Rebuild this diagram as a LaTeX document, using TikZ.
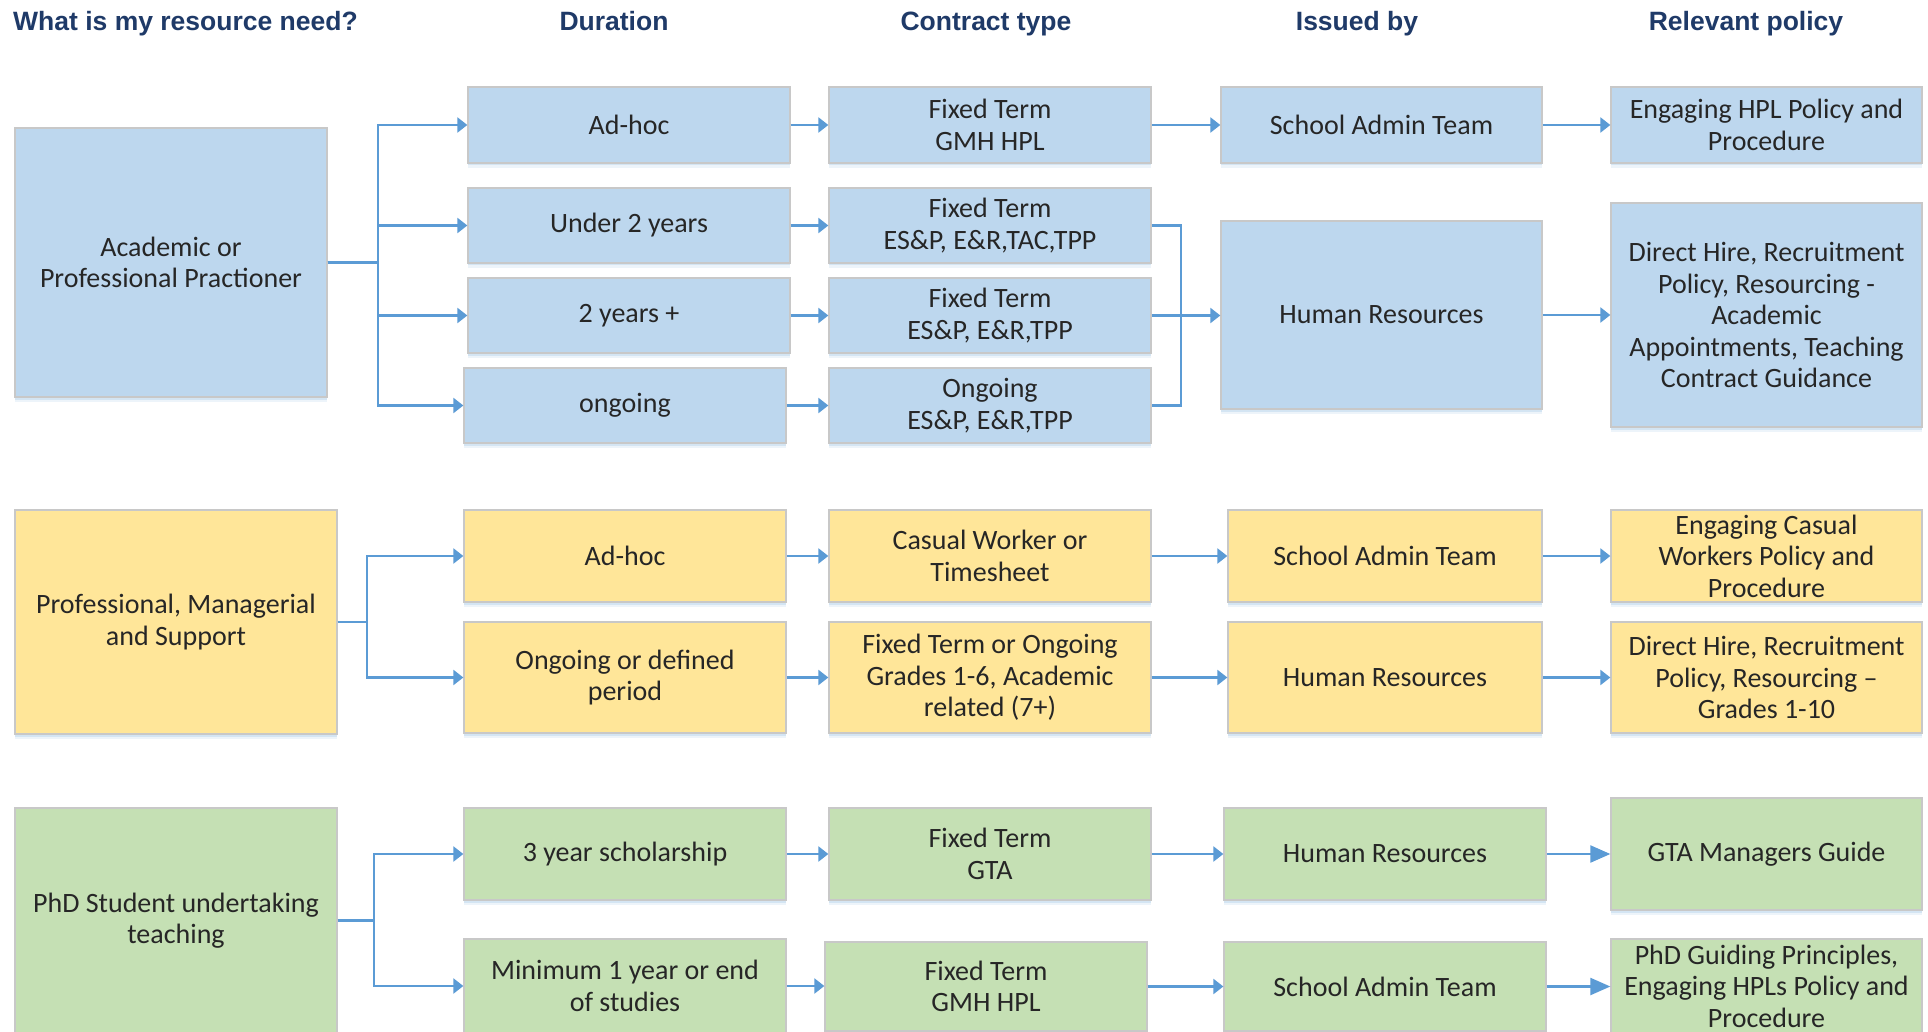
\documentclass[tikz,border=0pt]{standalone}
\usepackage{fontspec}
\setmainfont{Carlito}
\newfontfamily\headfont{Liberation Sans}
\usetikzlibrary{arrows.meta,shadows}

\definecolor{hdcol}{HTML}{1F3A68}
\definecolor{txtcol}{HTML}{262626}
\definecolor{fblue}{HTML}{BDD7EE}
\definecolor{fyellow}{HTML}{FFE699}
\definecolor{fgreen}{HTML}{C5E0B4}
\definecolor{edgecol}{HTML}{C8C8C8}
\definecolor{linkcol}{HTML}{5B9BD5}
\definecolor{shadecol}{HTML}{9DC3E6}

% box from corner (x1,y1) to corner (x2,y2), y counted downwards
\newcommand\bx[7]{%
  \node[#6, minimum width={(#4-#2)*1pt}, minimum height={(#5-#3)*1pt}]
    (#1) at ({(#2+#4)/2},{(#3+#5)/2}) {#7};}

\begin{document}
\begin{tikzpicture}[x=1pt, y=-1pt,
  boxbase/.style={draw=edgecol, line width=1.3pt, align=center, inner sep=2pt,
    text=txtcol, font=\fontsize{28}{31.5}\selectfont,
    drop shadow={shadow xshift=0pt, shadow yshift=-5pt, fill=shadecol, opacity=0.18},
    drop shadow={shadow xshift=0pt, shadow yshift=-2.5pt, fill=shadecol, opacity=0.3}},
  bluebox/.style={boxbase, fill=fblue},
  yellowbox/.style={boxbase, fill=fyellow},
  greenbox/.style={boxbase, fill=fgreen},
  hd/.style={text=hdcol, inner sep=0pt, font=\headfont\bfseries\fontsize{26.5}{30}\selectfont},
  link/.style={draw=linkcol, line width=2.2pt},
  arr/.style={link, -{Triangle[length=10pt,width=15pt]}},
  bigarr/.style={link, -{Triangle[length=20pt,width=17pt]}}]

\useasboundingbox (0,0) rectangle (1928,1032);
\fill[white] (0,0) rectangle (1928,1032);
\clip (0,0) rectangle (1928,1032);

% column headings
\node[hd, anchor=base west] (hneed) at (13,31) {What is my resource need?};
\node[hd, anchor=base] (hdur) at (614,31) {Duration};
\node[hd, anchor=base] (hcon) at (986,31) {Contract type};
\node[hd, anchor=base] (hiss) at (1357,31) {Issued by};
\node[hd, anchor=base] (hpol) at (1746,31) {Relevant policy};

% academic or professional practitioner
\bx{acad}{15}{128}{327}{397}{bluebox}{Academic or\\Professional Practioner}
\bx{d1}{468}{87}{790}{163}{bluebox}{Ad-hoc}
\bx{d2}{468}{188}{790}{263}{bluebox}{Under 2 years}
\bx{d3}{468}{278}{790}{353}{bluebox}{2 years +}
\bx{d4}{464}{368}{786}{443}{bluebox}{ongoing}
\bx{c1}{829}{87}{1151}{163}{bluebox}{Fixed Term\\GMH HPL}
\bx{c2}{829}{188}{1151}{263}{bluebox}{Fixed Term\\ES\&P, E\&R,TAC,TPP}
\bx{c3}{829}{278}{1151}{353}{bluebox}{Fixed Term\\ES\&P, E\&R,TPP}
\bx{c4}{829}{368}{1151}{443}{bluebox}{Ongoing\\ES\&P, E\&R,TPP}
\bx{i1}{1221}{87}{1542}{163}{bluebox}{School Admin Team}
\bx{i2}{1221}{221}{1542}{409}{bluebox}{Human Resources}
\bx{p1}{1611}{87}{1922}{163}{bluebox}{Engaging HPL Policy and\\Procedure}
\bx{p2}{1611}{203}{1922}{427}{bluebox}{Direct Hire, Recruitment\\Policy, Resourcing -\\Academic\\Appointments, Teaching\\Contract Guidance}

% professional, managerial and support
\bx{prof}{15}{510}{337}{734}{yellowbox}{Professional, Managerial\\and Support}
\bx{e1}{464}{510}{786}{602}{yellowbox}{Ad-hoc}
\bx{e2}{464}{622}{786}{733}{yellowbox}{Ongoing or defined\\period}
\bx{f1}{829}{510}{1151}{602}{yellowbox}{Casual Worker or\\Timesheet}
\bx{f2}{829}{622}{1151}{733}{yellowbox}{Fixed Term or Ongoing\\Grades 1-6, Academic\\related (7+)}
\bx{g1}{1228}{510}{1542}{602}{yellowbox}{School Admin Team}
\bx{g2}{1228}{622}{1542}{733}{yellowbox}{Human Resources}
\bx{h1}{1611}{510}{1922}{602}{yellowbox}{Engaging Casual\\Workers Policy and\\Procedure}
\bx{h2}{1611}{622}{1922}{733}{yellowbox}{Direct Hire, Recruitment\\Policy, Resourcing –\\Grades 1-10}

% PhD student undertaking teaching
\bx{phd}{15}{808}{337}{1033}{greenbox}{PhD Student undertaking\\teaching}
\bx{k1}{464}{808}{786}{900}{greenbox}{3 year scholarship}
\bx{k2}{464}{939}{786}{1033}{greenbox}{Minimum 1 year or end\\of studies}
\bx{l1}{829}{808}{1151}{900}{greenbox}{Fixed Term\\GTA}
\bx{l2}{825}{942}{1147}{1031}{greenbox}{Fixed Term\\GMH HPL}
\bx{m1}{1224}{808}{1546}{900}{greenbox}{Human Resources}
\bx{m2}{1224}{942}{1546}{1031}{greenbox}{School Admin Team}
\bx{n1}{1611}{798}{1922}{910}{greenbox}{GTA Managers Guide}
\bx{n2}{1611}{939}{1922}{1033}{greenbox}{PhD Guiding Principles,\\Engaging HPLs Policy and\\Procedure}

% connectors, first group
\foreach \d in {d1,d2,d3,d4}
  \draw[arr] (acad.east) -- ++(50,0) |- (\d.west);
\draw[arr] (d1.east) -- (c1.west);
\draw[arr] (d2.east) -- (c2.west);
\draw[arr] (d3.east) -- (c3.west);
\draw[arr] (d4.east) -- (c4.west);
\draw[arr] (c1.east) -- (i1.west);
\draw[arr] (i1.east) -- (p1.west);
\draw[link] (c2.east) -- ++(29,0) |- (c4.east);
\draw[arr] (c3.east) -- (c3.east -| i2.west);
\draw[arr] (i2.east) -- (p2.west);

% connectors, second group
\foreach \d in {e1,e2}
  \draw[arr] (prof.east) -- ++(29,0) |- (\d.west);
\draw[arr] (e1.east) -- (f1.west);
\draw[arr] (e2.east) -- (f2.west);
\draw[arr] (f1.east) -- (g1.west);
\draw[arr] (f2.east) -- (g2.west);
\draw[arr] (g1.east) -- (h1.west);
\draw[arr] (g2.east) -- (h2.west);

% connectors, third group
\foreach \d in {k1,k2}
  \draw[arr] (phd.east) -- ++(36,0) |- (\d.west);
\draw[arr] (k1.east) -- (l1.west);
\draw[arr] (k2.east) -- (k2.east -| l2.west);
\draw[arr] (l1.east) -- (m1.west);
\draw[arr] (l2.east) -- (l2.east -| m2.west);
\draw[bigarr] (m1.east) -- (n1.west);
\draw[bigarr] (m2.east) -- (m2.east -| n2.west);
\end{tikzpicture}
\end{document}
